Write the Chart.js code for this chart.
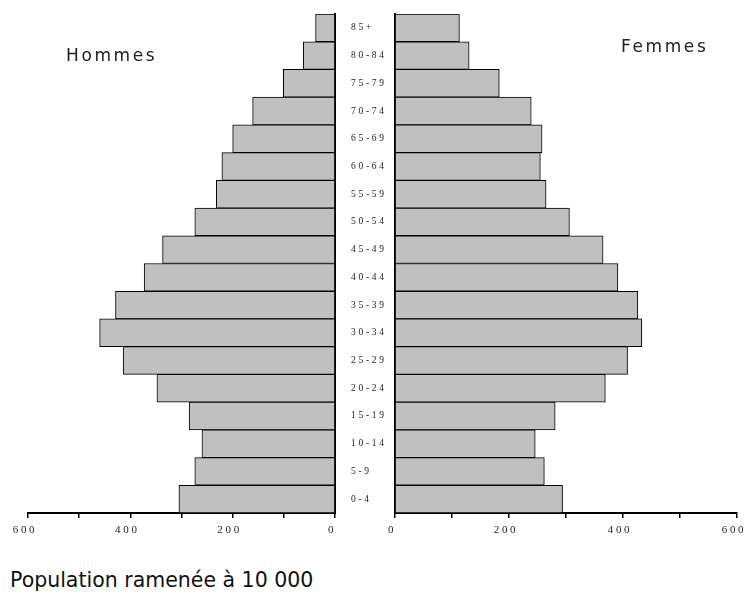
<!DOCTYPE html>
<html>
<head>
<meta charset="utf-8">
<script src="https://cdn.jsdelivr.net/npm/chart.js@4"></script>
<style>
  body { margin: 0; width: 756px; height: 592px; background: #fff; position: relative; overflow: hidden; }
  .boite { position: absolute; top: 0; height: 545px; }
  #boite-h { left: 0; width: 390px; }
  #boite-f { left: 380px; width: 376px; }
  .titre { position: absolute; font-family: "DejaVu Sans", sans-serif; font-size: 17px; letter-spacing: 2.6px; color: #222; }
  #hommes { left: 66px; top: 45px; }
  #femmes { left: 621px; top: 36px; }
  #note { position: absolute; left: 10px; top: 568px; font-family: "DejaVu Sans", sans-serif; font-size: 20.5px; color: #111; }
</style>
</head>
<body>
<div class="boite" id="boite-h"><canvas id="hommesChart"></canvas></div>
<div class="boite" id="boite-f"><canvas id="femmesChart"></canvas></div>
<div class="titre" id="hommes">Hommes</div>
<div class="titre" id="femmes">Femmes</div>
<div id="note">Population ramenée à 10 000</div>
<script>
// tranches d'âge, du haut vers le bas
const ages = ['85+', '80-84', '75-79', '70-74', '65-69', '60-64', '55-59', '50-54', '45-49',
  '40-44', '35-39', '30-34', '25-29', '20-24', '15-19', '10-14', '5-9', '0-4'];
const hommes = [38, 62, 101, 161, 200, 221, 232, 274, 337, 373, 429, 460, 414, 348, 285, 260, 274, 305];
const femmes = [113, 130, 183, 239, 258, 255, 265, 306, 365, 391, 426, 433, 408, 369, 281, 246, 262, 294];
const graduations = [0, 200, 400, 600];

// espacement des lettres comme sur l'original
const espacement = {
  id: 'espacement',
  beforeDraw(chart) { chart.ctx.letterSpacing = '2.7px'; }
};

function axeX(inverse) {
  return {
    min: 0, max: 600, reverse: inverse,
    afterFit(axis) { axis.height = 32; },
    grid: { display: true, drawOnChartArea: false, drawTicks: true, tickLength: 5, color: '#000', lineWidth: 1.5 },
    border: { display: true, color: '#000', width: 2 },
    ticks: {
      stepSize: 100, padding: 6, color: '#222', maxRotation: 0, autoSkip: false, labelOffset: -3,
      font: { family: '"Liberation Serif", serif', size: 11 },
      callback: v => graduations.includes(v) ? String(v) : ''
    }
  };
}

function jeu(valeurs) {
  return [{
    data: valeurs,
    backgroundColor: '#c0c0c0',
    borderColor: '#000',
    borderWidth: 1,
    barPercentage: 1,
    categoryPercentage: 1
  }];
}

new Chart(document.getElementById('hommesChart'), {
  type: 'bar',
  data: { labels: ages, datasets: jeu(hommes) },
  plugins: [espacement],
  options: {
    indexAxis: 'y', responsive: true, maintainAspectRatio: false, animation: false,
    layout: { padding: { top: 14, left: 28, right: 0, bottom: 0 } },
    plugins: { legend: { display: false }, tooltip: { enabled: false } },
    scales: {
      x: axeX(true),
      y: {
        position: 'right',
        afterFit(axis) { axis.width = 55; axis.paddingTop = 0; axis.paddingBottom = 0; },
        grid: { display: false, drawTicks: false },
        border: { display: true, color: '#000', width: 2 },
        ticks: { padding: 16, color: '#222', font: { family: '"Liberation Serif", serif', size: 9.5 } }
      }
    }
  }
});

new Chart(document.getElementById('femmesChart'), {
  type: 'bar',
  data: { labels: ages, datasets: jeu(femmes) },
  plugins: [espacement],
  options: {
    indexAxis: 'y', responsive: true, maintainAspectRatio: false, animation: false,
    layout: { padding: { top: 14, left: 0, right: 19, bottom: 0 } },
    plugins: { legend: { display: false }, tooltip: { enabled: false } },
    scales: {
      x: axeX(false),
      y: {
        position: 'left',
        afterFit(axis) { axis.width = 15; axis.paddingTop = 0; axis.paddingBottom = 0; },
        grid: { display: false, drawTicks: false },
        border: { display: true, color: '#000', width: 2 },
        ticks: { display: false }
      }
    }
  }
});
</script>
</body>
</html>
